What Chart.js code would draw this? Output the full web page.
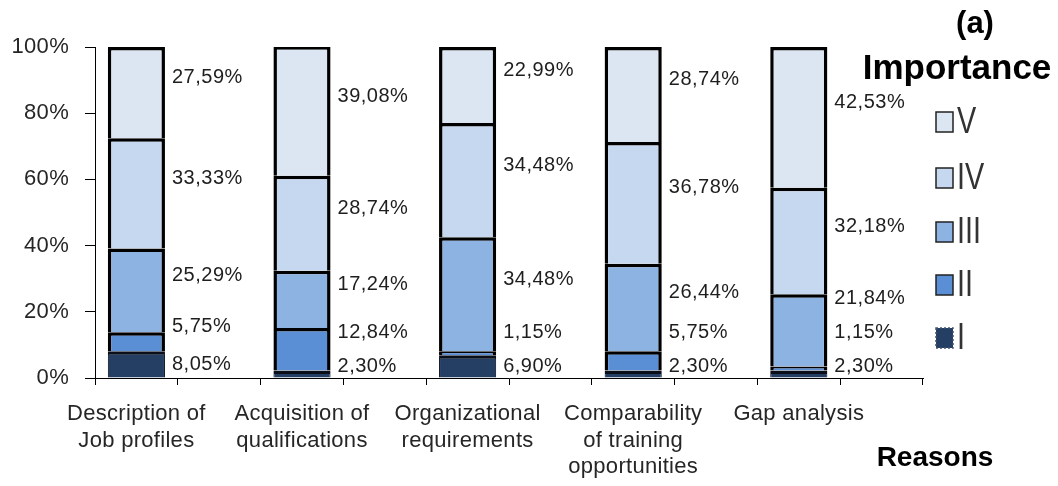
<!DOCTYPE html>
<html><head><meta charset="utf-8">
<script src="https://cdn.jsdelivr.net/npm/chart.js@4/dist/chart.umd.min.js"></script>
<style>html,body{margin:0;padding:0;background:#fff}#wrap{width:1058px;height:486px;position:relative}</style>
</head><body><div id="wrap"><canvas id="c"></canvas></div>
<script>
// ---- data ----
const reasons = [["Description of","Job profiles"],["Acquisition of","qualifications"],["Organizational","requirements"],["Comparability","of training","opportunities"],["Gap analysis"]];
const levelNames = ["I","II","III","IV","V"];
const levelI   = [8.05, 2.30, 6.90, 2.30, 2.30];
const levelII  = [5.75, 12.84, 1.15, 5.75, 1.15];
const levelIII = [25.29, 17.24, 34.48, 26.44, 21.84];
const levelIV  = [33.33, 28.74, 34.48, 36.78, 32.18];
const levelV   = [27.59, 39.08, 22.99, 28.74, 42.53];
const yTickLabels = ["0%","20%","40%","60%","80%","100%"];
const chartTitle = "(a)";
const legendTitle = "Importance";
const xTitle = "Reasons";

// ---- styles ----
const fills = ["#243f63","#5b8fd5","#8db3e2","#c6d8f0","#dce6f2"];
const borders = ["#0a0f1a","#000","#000","#000","#000"];
const FONT = "'Liberation Sans', Arial, sans-serif";
Chart.defaults.font.family = FONT;
Chart.defaults.color = "#262626";

// each reason gets a bar slot and a blank slot for its value labels
const slotLabels = [];
reasons.forEach(r => { slotLabels.push(r); slotLabels.push(""); });
function toSlots(arr){ const o=[]; arr.forEach(v=>{o.push(v); o.push(null);}); return o; }
const series = [levelI, levelII, levelIII, levelIV, levelV];

const datasets = series.map((arr,k)=>({
  label: levelNames[k],
  data: toSlots(arr),
  backgroundColor: fills[k],
  borderColor: borders[k],
  borderWidth: k===0 ? {top:3.5, left:1, right:1, bottom:0} : 3.5,
  barPercentage: 0.69,
  categoryPercentage: 1.0
}));

const spacingPlugin = {
  id:'spacing',
  beforeUpdate(chart){ chart.ctx.letterSpacing = '0.3px'; },
  beforeDraw(chart){ chart.ctx.letterSpacing = '0.3px'; }
};

const labelPlugin = {
  id:'valueLabels',
  afterDatasetsDraw(chart){
    const ctx = chart.ctx;
    const y0 = chart.scales.y.getPixelForValue(0);
    ctx.save();
    ctx.letterSpacing = '0.5px';
    ctx.font = "20px " + FONT;
    ctx.fillStyle = "#1e1e1e";
    ctx.textAlign = "left";
    ctx.textBaseline = "middle";
    reasons.forEach((r,i)=>{
      const slot = i*2;
      let prev = null;
      series.forEach((arr,k)=>{
        const el = chart.getDatasetMeta(k).data[slot];
        const c = (el.y + el.base)/2;
        let ty;
        if (k===0) ty = Math.min(c, y0 - 12);
        else { ty = c - 15; ty = Math.min(ty, prev - 34); }
        prev = ty;
        const txt = arr[i].toFixed(2).replace('.', ',') + '%';
        ctx.fillText(txt, el.x + el.width/2 + 7, ty);
      });
    });
    ctx.restore();
  },
  afterDraw(chart){
    const ctx = chart.ctx;
    ctx.save();
    ctx.letterSpacing = '0px';
    ctx.fillStyle = "#000";
    ctx.textBaseline = "middle";
    ctx.textAlign = "center";
    ctx.font = "bold 31px " + FONT;
    ctx.fillText(chartTitle, 975, 24);
    ctx.font = "bold 35px " + FONT;
    ctx.fillText(legendTitle, 957, 69);
    ctx.font = "bold 28px " + FONT;
    ctx.fillText(xTitle, 935, 458);
    // legend (V on top)
    const ys = [338, 285, 232, 178, 122];
    ctx.textAlign = "left";
    for (let k=4;k>=0;k--){
      const y = ys[k];
      ctx.fillStyle = fills[k];
      ctx.fillRect(936, y-10, 17, 20);
      ctx.strokeStyle = k===0 ? "#44546e" : "#222";
      ctx.lineWidth = 1.5;
      if (k===0) ctx.setLineDash([2,2]); else ctx.setLineDash([]);
      ctx.strokeRect(936, y-10, 17, 20);
      ctx.setLineDash([]);
      ctx.fillStyle = "#333";
      ctx.save();
      ctx.translate(957, y+1);
      ctx.scale(0.8, 1);
      ctx.font = "36px " + FONT;
      ctx.fillText(levelNames[k], 0, 0);
      ctx.restore();
    }
    ctx.restore();
  }
};

new Chart(document.getElementById('c'), {
  type:'bar',
  data:{ labels: slotLabels, datasets },
  options:{
    responsive:true, maintainAspectRatio:false, animation:false,
    layout:{ padding:{ top:47, right:135, left:0, bottom:0 } },
    plugins:{ legend:{display:false}, tooltip:{enabled:false} },
    scales:{
      x:{
        stacked:true,
        grid:{ drawOnChartArea:false, tickLength:7, color:'#000', offset:true },
        border:{ color:'#000', width:1 },
        ticks:{ autoSkip:false, maxRotation:0, minRotation:0, padding:16, color:'#262626',
                font:{ size:22, lineHeight:1.2 } },
        afterFit(s){ s.height = 108; }
      },
      y:{
        stacked:true, min:0, max:100,
        grid:{ drawOnChartArea:false, tickLength:10, color:'#000' },
        border:{ color:'#000', width:1 },
        ticks:{ stepSize:20, padding:16, color:'#262626', font:{ size:22 },
                callback:(v,i)=> yTickLabels[i] },
        afterFit(s){ s.width = 95; }
      }
    }
  },
  plugins:[spacingPlugin, labelPlugin]
});
</script></body></html>
